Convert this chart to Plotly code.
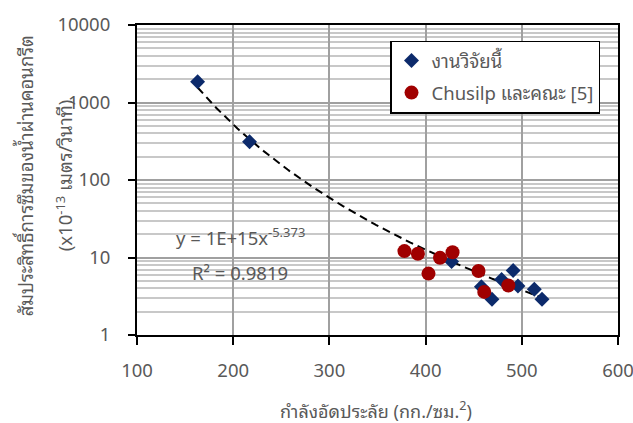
import numpy as np
import plotly.graph_objects as go

# Permeability coefficient (x10^-13 m/s) versus compressive strength (kg/cm^2)
this_work_strength = [163, 217, 427, 458, 469, 479, 491, 496, 513, 521]
this_work_perm = [1850, 311, 8.9, 4.2, 2.9, 5.2, 6.8, 4.3, 3.9, 2.9]

chusilp_strength = [378, 392, 415, 428, 403, 455, 461, 486]
chusilp_perm = [12.1, 11.2, 9.9, 11.7, 6.2, 6.7, 3.6, 4.35]

# Power-law trend fitted to this work: y = a * x^b
trend_a = 1.2e15
trend_b = -5.373
trend_r2 = 0.9819

y_tick_vals = [1, 10, 100, 1000, 10000]
y_tick_text = ["1", "10", "100", "1000", "10000"]
x_tick_vals = [100, 200, 300, 400, 500, 600]

FONT = "Noto Sans, Noto Sans Thai Looped, Noto Sans Thai, DejaVu Sans, sans-serif"
GREY = "#595959"

trend_x = np.linspace(min(this_work_strength), max(this_work_strength), 200)
trend_y = trend_a * trend_x ** trend_b

fig = go.Figure()

fig.add_trace(go.Scatter(
    x=trend_x, y=trend_y, mode="lines",
    line=dict(color="black", width=2, dash="8px,5px"),
    showlegend=False, hoverinfo="skip",
))
fig.add_trace(go.Scatter(
    x=this_work_strength, y=this_work_perm, mode="markers",
    name="งานวิจัยนี้", legendgroup="a",
    marker=dict(symbol="diamond", size=11.5, color="#0C2A6B"),
))
fig.add_trace(go.Scatter(
    x=chusilp_strength, y=chusilp_perm, mode="markers",
    name="Chusilp และคณะ [5]", legendgroup="b",
    marker=dict(symbol="circle", size=14, color="#A00000"),
))

minor_vals = [m * 10 ** d for d in range(0, 4) for m in range(2, 10)]

fig.update_xaxes(
    range=[100, 600], tickvals=x_tick_vals, automargin=False,
    ticklabeloverflow="allow",
    showgrid=True, gridcolor="#A0A0A0", gridwidth=1.5,
    showline=True, linecolor="black", linewidth=2, mirror=True,
    ticks="outside", ticklen=8, tickwidth=2, tickcolor="black",
    ticklabelstandoff=10,
    tickfont=dict(family=FONT, size=18.5, color=GREY),
    zeroline=False,
)
fig.update_yaxes(
    type="log", range=[0, 4], tickvals=y_tick_vals, ticktext=y_tick_text,
    automargin=False, ticklabeloverflow="allow",
    showgrid=True, gridcolor="#A0A0A0", gridwidth=1.5,
    minor=dict(tickvals=minor_vals, showgrid=True, gridcolor="#C8C8C8",
               gridwidth=1.5, ticks=""),
    showline=True, linecolor="black", linewidth=2, mirror=True,
    ticks="outside", ticklen=7, tickwidth=2, tickcolor="black",
    ticklabelstandoff=14,
    tickfont=dict(family=FONT, size=18.5, color=GREY),
    zeroline=False,
)

eq_text = "y = {}x<sup>{}</sup>".format("{:.0E}".format(trend_a), trend_b)
annotations = [
    dict(text=eq_text, x=0.077, y=0.318, xref="paper", yref="paper",
         xanchor="left", yanchor="middle", showarrow=False,
         font=dict(family=FONT, size=18.5, color=GREY)),
    dict(text="R² = {:.4f}".format(trend_r2), x=0.11, y=0.202,
         xref="paper", yref="paper", xanchor="left", yanchor="middle",
         showarrow=False, font=dict(family=FONT, size=18.5, color=GREY)),
    dict(text="กำลังอัดประลัย (กก./ซม.<sup>2</sup>)", x=0.497, y=-0.243,
         xref="paper", yref="paper", xanchor="center", yanchor="middle",
         showarrow=False, font=dict(family=FONT, size=18, color=GREY)),
    dict(text="สัมประสิทธิ์การซึมของน้ำผ่านคอนกรีต", x=-0.233, y=0.515,
         xref="paper", yref="paper", xanchor="center", yanchor="middle",
         textangle=-90, showarrow=False,
         font=dict(family=FONT, size=18.5, color=GREY)),
    dict(text="(x10<sup>-13</sup> เมตร/วินาที)", x=-0.152, y=0.515,
         xref="paper", yref="paper", xanchor="center", yanchor="middle",
         textangle=-90, showarrow=False,
         font=dict(family=FONT, size=18.5, color=GREY)),
]

fig.update_layout(
    width=633, height=423,
    margin=dict(l=137, r=15, t=25, b=88),
    paper_bgcolor="white", plot_bgcolor="white",
    annotations=annotations,
    legend=dict(
        x=0.526, y=0.95, xanchor="left", yanchor="top",
        bgcolor="white", bordercolor="black", borderwidth=1.5,
        font=dict(family=FONT, size=18.5, color=GREY),
        tracegroupgap=5, itemwidth=30,
    ),
)

fig.write_html("out.html")
